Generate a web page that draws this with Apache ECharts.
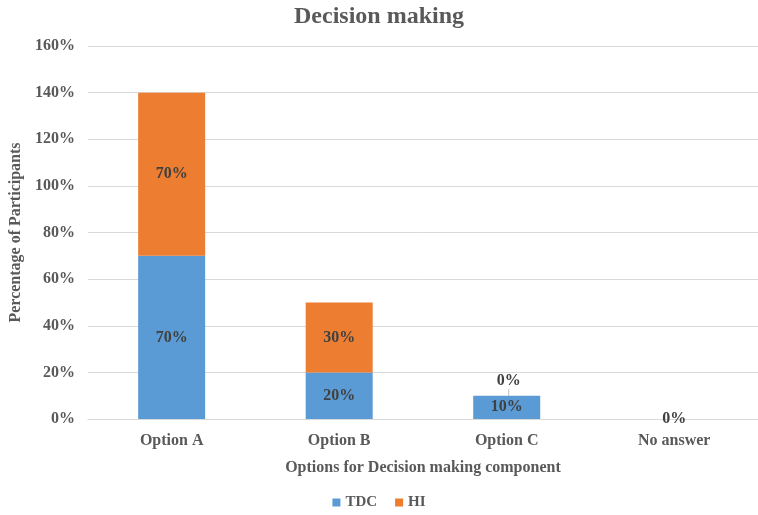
<!DOCTYPE html>
<html><head><meta charset="utf-8">
<script src="https://cdn.jsdelivr.net/npm/echarts@6/dist/echarts.min.js"></script>
<style>html,body{margin:0;padding:0;background:#fff}#c{width:758px;height:515px}</style>
</head><body><div id="c"></div>
<script>
const categories = ['Option A', 'Option B', 'Option C', 'No answer'];
const tdcValues = [70, 20, 10, 0];
const hiValues = [70, 30, 0, 0];
const yTicks = [0, 20, 40, 60, 80, 100, 120, 140, 160];

const FONT = '"Liberation Serif", "Times New Roman", serif';
const TXT = '#595959';
const chart = echarts.init(document.getElementById('c'));
chart.setOption({
  animation: false,
  title: { text: 'Decision making', left: 'center', top: 0,
    textStyle: { fontFamily: FONT, fontSize: 24, fontWeight: 'bold', color: TXT } },
  legend: { bottom: 0, left: 'center', itemWidth: 8, itemHeight: 8, itemGap: 18, icon: 'rect',
    textStyle: { fontFamily: FONT, fontSize: 15, fontWeight: 'bold', color: TXT } },
  grid: { left: 85, right: -10, top: 46, bottom: 96, containLabel: false },
  xAxis: { type: 'category', data: categories,
    name: 'Options for Decision making component', nameLocation: 'middle', nameGap: 41,
    nameTextStyle: { fontFamily: FONT, fontSize: 16, fontWeight: 'bold', color: TXT },
    axisLine: { lineStyle: { color: '#d9d9d9' } }, axisTick: { show: false },
    axisLabel: { fontFamily: FONT, fontSize: 16, fontWeight: 'bold', color: TXT, margin: 14 } },
  yAxis: { type: 'value', min: yTicks[0], max: yTicks[yTicks.length - 1], interval: 20,
    name: 'Percentage of Participants', nameLocation: 'middle', nameGap: 62,
    nameTextStyle: { fontFamily: FONT, fontSize: 16, fontWeight: 'bold', color: TXT },
    axisLine: { show: false }, axisTick: { show: false },
    splitLine: { lineStyle: { color: '#d9d9d9' } },
    axisLabel: { fontFamily: FONT, fontSize: 16, fontWeight: 'bold', color: TXT, margin: 13,
      formatter: v => v + '%' } },
  series: [
    { name: 'TDC', type: 'bar', stack: 's', barWidth: '40%', data: tdcValues,
      itemStyle: { color: '#5B9BD5' },
      label: { show: true, position: 'inside', formatter: p => p.value + '%',
        fontFamily: FONT, fontSize: 16, fontWeight: 'bold', color: '#404040' } },
    { name: 'HI', type: 'bar', stack: 's', barWidth: '40%',
      data: hiValues.map((v, i) => i === 3 ? { value: v, label: { show: false } } : v),
      itemStyle: { color: '#ED7D31' },
      label: { show: true, position: 'inside', formatter: p => p.value + '%',
        fontFamily: FONT, fontSize: 16, fontWeight: 'bold', color: '#404040' },
      labelLine: { show: true, lineStyle: { color: '#bfbfbf', width: 1 } },
      labelLayout: p => p.dataIndex === 2 ? { dx: 2, dy: -15 } : {} }
  ]
});
</script></body></html>
